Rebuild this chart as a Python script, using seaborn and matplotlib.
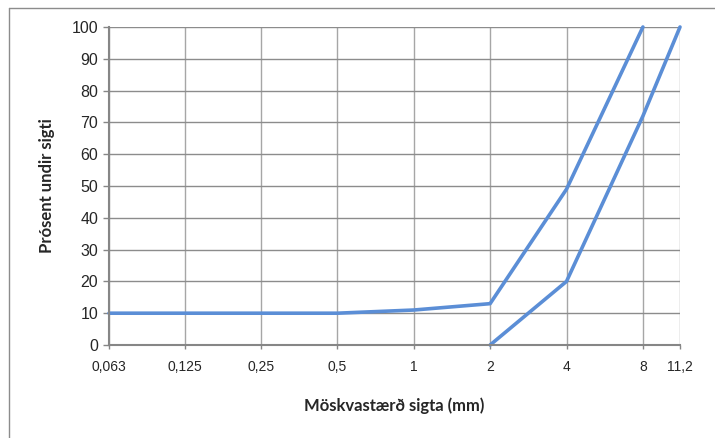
import matplotlib
matplotlib.use("Agg")
import matplotlib.pyplot as plt
from matplotlib.lines import Line2D
import seaborn as sns
import pandas as pd

# sieve sizes (mm) and passing percentages
sieves = [0.063, 0.125, 0.25, 0.5, 1, 2, 4, 8, 11.2]
tick_labels = ["0,063", "0,125", "0,25", "0,5", "1", "2", "4", "8", "11,2"]

upper_x = [0.063, 0.125, 0.25, 0.5, 1, 2, 4, 8]
upper_y = [10, 10, 10, 10, 11, 13, 49, 100]

lower_x = [2, 4, 8, 11.2]
lower_y = [0, 20, 72, 100]

df = pd.concat([
    pd.DataFrame({"size": upper_x, "pct": upper_y, "curve": "upper"}),
    pd.DataFrame({"size": lower_x, "pct": lower_y, "curve": "lower"}),
])

sns.set_style("white")
plt.rcParams["font.family"] = ["Liberation Sans", "DejaVu Sans"]

fig = plt.figure(figsize=(7.15, 4.38), dpi=100)
ax = fig.add_axes([109 / 715, 93 / 438, 571 / 715, 318 / 438])

blue = "#5B8ED6"
sns.lineplot(data=df, x="size", y="pct", units="curve", estimator=None,
             color=blue, linewidth=2.6, sort=False, ax=ax, clip_on=False)

ax.set_xscale("log", base=2)
ax.set_xlim(0.063, 11.2)
ax.set_ylim(0, 100)
ax.set_xticks(sieves)
ax.set_xticklabels(tick_labels)
ax.minorticks_off()
ax.set_yticks(range(0, 101, 10))

ax.grid(True, axis="y", color="#8c8c8c", linewidth=1)
ax.grid(True, axis="x", color="#a6a6a6", linewidth=1)
ax.set_axisbelow(True)

for side in ["left", "bottom"]:
    ax.spines[side].set_color("#868686")
    ax.spines[side].set_linewidth(1.5)
ax.spines["top"].set_visible(False)
ax.spines["right"].set_visible(False)

ax.tick_params(axis="y", length=4.3, width=1, color="#868686", pad=3.6,
               labelsize=11.5, left=True)
ax.tick_params(axis="x", length=3, width=1, color="#868686", pad=8,
               labelsize=10, bottom=True)

ax.set_xlabel("Möskvastærð sigta (mm)", fontsize=12, fontweight="bold",
              family=["Lato", "DejaVu Sans"], labelpad=17)
ax.set_ylabel("Prósent undir sigti", fontsize=12, fontweight="bold",
              family=["Lato", "DejaVu Sans"], labelpad=12)

# outer chart border (top and left visible)
fig.add_artist(Line2D([9 / 715, 1], [1 - 8 / 438, 1 - 8 / 438],
                      transform=fig.transFigure, color="#8c8c8c", linewidth=1))
fig.add_artist(Line2D([9 / 715, 9 / 715], [0, 1 - 8 / 438],
                      transform=fig.transFigure, color="#8c8c8c", linewidth=1))

fig.savefig("out.png", dpi=100)
